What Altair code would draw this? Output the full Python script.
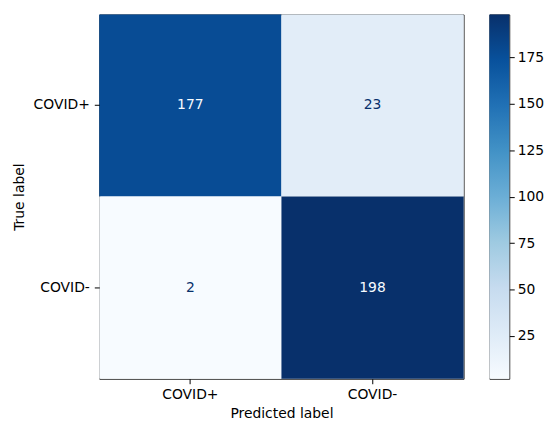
import altair as alt
import pandas as pd

# Confusion matrix counts (row = true class, column = predicted class)
classes = ["COVID+", "COVID-"]
true_labels = ["COVID+", "COVID+", "COVID-", "COVID-"]
pred_labels = ["COVID+", "COVID-", "COVID+", "COVID-"]
counts = [177, 23, 2, 198]

# matplotlib "Blues" colormap anchor colours (ColorBrewer 9-class)
blues = ["#f7fbff", "#deebf7", "#c6dbef", "#9ecae1", "#6baed6",
         "#4292c6", "#2171b5", "#08519c", "#08306b"]
cbar_ticks = [25, 50, 75, 100, 125, 150, 175]

df = pd.DataFrame({"true": true_labels, "pred": pred_labels, "count": counts})
vmin, vmax = min(counts), max(counts)
threshold = (vmin + vmax) / 2

FONT = "DejaVu Sans"
FS = 14
SIDE = 367

domain_stops = [vmin + (vmax - vmin) * i / (len(blues) - 1) for i in range(len(blues))]
color_scale = alt.Scale(domain=domain_stops, range=blues, type="linear", interpolate="rgb")

x_enc = alt.X("pred:N", sort=classes,
              scale=alt.Scale(paddingInner=0, paddingOuter=0),
              axis=alt.Axis(title="Predicted label", labelAngle=0, domain=False,
                            tickSize=5, labelPadding=4, titlePadding=5))
y_enc = alt.Y("true:N", sort=classes,
              scale=alt.Scale(paddingInner=0, paddingOuter=0),
              axis=alt.Axis(title="True label", domain=False,
                            tickSize=5, labelPadding=5, titlePadding=7))

cells = alt.Chart(df).mark_rect().encode(
    x=x_enc, y=y_enc,
    color=alt.Color("count:Q", scale=color_scale, legend=None),
)
values = alt.Chart(df).mark_text(font=FONT, fontSize=FS).encode(
    x=alt.X("pred:N", sort=classes),
    y=alt.Y("true:N", sort=classes),
    text="count:Q",
    color=alt.condition(alt.datum["count"] > threshold,
                        alt.value(blues[0]), alt.value(blues[-1])),
)
matrix = alt.layer(cells, values).properties(width=367, height=SIDE)

# Colour bar drawn as a gradient-filled rectangle with its own value axis
cbar_df = pd.DataFrame({"lo": [vmin], "hi": [vmax]})
gradient = alt.Gradient(
    gradient="linear",
    stops=[alt.GradientStop(offset=i / (len(blues) - 1), color=c) for i, c in enumerate(blues)],
    x1=0, x2=0, y1=1, y2=0,
)
colorbar = alt.Chart(cbar_df).mark_rect(color=gradient).encode(
    x=alt.value(0), x2=alt.value(20),
    y=alt.Y("lo:Q", scale=alt.Scale(domain=[vmin, vmax], nice=False, zero=False),
            axis=alt.Axis(orient="right", values=cbar_ticks, title=None, domain=False,
                          grid=False, tickSize=5, labelPadding=3)),
    y2="hi:Q",
).properties(width=20, height=SIDE)

chart = alt.hconcat(matrix, colorbar, spacing=24).properties(
    padding={"top": 12, "left": 11, "right": 0, "bottom": 0},
    background="white",
).configure_view(
    stroke="#222222", strokeWidth=1
).configure_axis(
    labelFont=FONT, titleFont=FONT, labelFontSize=FS, titleFontSize=FS,
    labelColor="#000000", titleColor="#000000", tickColor="#000000",
    titleFontWeight="normal", grid=False,
)

chart.save("out.html", embed_options={"renderer": "svg", "actions": False})
